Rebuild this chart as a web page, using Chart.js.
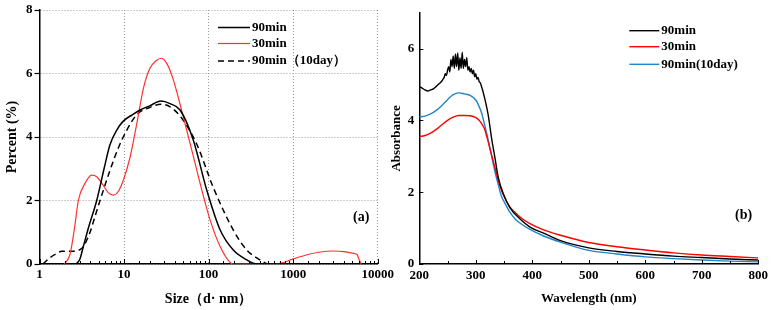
<!DOCTYPE html>
<html>
<head>
<meta charset="utf-8">
<script src="https://cdn.jsdelivr.net/npm/chart.js@4.4.0/dist/chart.umd.min.js"></script>
<style>
body { margin: 0; background: #fff; }
#wrap { position: relative; width: 772px; height: 310px; overflow: hidden; background: #fff; }
canvas { position: absolute; top: 0; }
#sizeChart { left: 0; }
#absChart { left: 390px; }
</style>
</head>
<body>
<div id="wrap">
<canvas id="sizeChart" width="400" height="310"></canvas>
<canvas id="absChart" width="382" height="310"></canvas>
</div>
<script>
// (a) Size distribution - d (nm) vs Percent (%)
const size90 = [2.7, 3.0, 3.3, 3.8, 4.75, 5.8, 6.8, 8.2, 9.8, 12.5, 15.5, 20, 27.4, 35, 46, 66, 95, 137, 196, 283, 372, 500, 800];
const pct90 = [0, 0.15, 0.55, 1.15, 2.0, 3.0, 3.75, 4.22, 4.5, 4.7, 4.85, 4.98, 5.13, 5.05, 4.85, 3.9, 2.33, 1.07, 0.44, 0.13, 0, 0, 0];

const size30 = [1.97, 2.3, 2.6, 2.88, 3.45, 4.14, 4.75, 5.6, 6.5, 7.47, 8.6, 9.8, 11.8, 14.1, 17, 20.3, 24, 27.4, 32, 38.3, 50, 66, 87, 104, 137, 179, 196, 300, 500, 700, 1000, 1500, 2000, 3000, 4000, 5000, 5700, 6000, 6400];
const pct30 = [0, 0.31, 1.15, 2.0, 2.54, 2.8, 2.75, 2.5, 2.25, 2.17, 2.3, 2.64, 3.37, 4.4, 5.55, 6.17, 6.4, 6.48, 6.32, 5.8, 4.65, 3.39, 2.13, 1.39, 0.55, 0.05, 0, 0, 0, 0.02, 0.16, 0.3, 0.37, 0.41, 0.39, 0.34, 0.3, 0.15, 0];

const size90d10 = [1.1, 1.33, 1.6, 1.83, 2.2, 2.63, 3.0, 3.3, 3.96, 4.5, 5.2, 6.8, 8.6, 10.7, 14.1, 20, 27.4, 35, 46, 72.5, 114, 196, 283, 405, 490];
const pct90d10 = [0, 0.2, 0.33, 0.4, 0.4, 0.4, 0.45, 0.55, 1.0, 1.47, 2.0, 2.94, 3.67, 4.2, 4.7, 4.93, 5.03, 4.95, 4.66, 3.77, 2.4, 1.07, 0.44, 0.13, 0];

const sizeTicks = [1, 10, 100, 1000, 10000];
const pctTicks = [0, 2, 4, 6, 8];

// (b) UV-vis absorbance
const wl90 = [200, 205, 210, 215, 220, 225, 230, 235, 240, 242, 244, 246, 248, 250, 252, 254, 256, 258, 260, 262, 264, 266, 268, 270, 272, 274, 276, 278, 280, 282, 284, 286, 288, 290, 292, 294, 296, 298, 300, 302, 304, 306, 308, 310, 312, 316, 322, 328, 334, 340, 349, 360, 378, 396, 420, 450, 500, 550, 600, 650, 700, 750, 800];
const abs90 = [4.95, 4.9, 4.85, 4.82, 4.85, 4.88, 4.95, 5.02, 5.1, 5.15, 5.2, 5.3, 5.25, 5.4, 5.5, 5.35, 5.7, 5.5, 5.8, 5.45, 5.85, 5.5, 5.88, 5.4, 5.75, 5.45, 5.9, 5.45, 5.7, 5.5, 5.75, 5.4, 5.5, 5.35, 5.45, 5.3, 5.4, 5.22, 5.3, 5.15, 5.2, 5.08, 5.05, 4.95, 4.85, 4.6, 4.15, 3.5, 2.95, 2.4, 1.95, 1.58, 1.26, 1.03, 0.86, 0.65, 0.45, 0.35, 0.28, 0.22, 0.18, 0.14, 0.11];

const wl = [200, 210, 220, 230, 240, 250, 260, 270, 280, 290, 300, 305, 310, 315, 320, 325, 330, 335, 340, 345, 350, 360, 370, 380, 395, 420, 450, 500, 550, 600, 650, 700, 750, 800];
const abs30 = [3.55, 3.58, 3.65, 3.75, 3.88, 4.0, 4.09, 4.14, 4.14, 4.13, 4.08, 4.02, 3.92, 3.78, 3.52, 3.22, 2.92, 2.62, 2.31, 2.07, 1.88, 1.6, 1.43, 1.29, 1.13, 0.95, 0.8, 0.6, 0.48, 0.39, 0.31, 0.25, 0.21, 0.17];
const abs90d10 = [4.1, 4.12, 4.18, 4.28, 4.42, 4.58, 4.72, 4.77, 4.74, 4.7, 4.57, 4.42, 4.22, 3.92, 3.6, 3.23, 2.85, 2.5, 2.2, 1.9, 1.74, 1.45, 1.25, 1.12, 0.97, 0.78, 0.61, 0.38, 0.28, 0.2, 0.15, 0.11, 0.08, 0.06];

const wlTicks = [200, 300, 400, 500, 600, 700, 800];
const wlMinor = [250, 350, 450, 550, 650, 750];
const absTicks = [0, 2, 4, 6];

const SERIF = "'Liberation Serif', 'Times New Roman', serif";
Chart.defaults.font.family = SERIF;
Chart.defaults.font.weight = 'bold';
Chart.defaults.color = '#000';
Chart.defaults.animation = false;

function pts(xs, ys) {
    return xs.map((x, i) => ({ x: x, y: ys[i] }));
}

function isDecade(v) {
    const l = Math.log10(v);
    return Math.abs(l - Math.round(l)) < 1e-9;
}

// ticks tournés vers l'intérieur
const innerTicks = {
    id: 'innerTicks',
    afterDraw(chart, args, opts) {
        const ctx = chart.ctx, x = chart.scales.x, y = chart.scales.y;
        const major = opts.xMajor || [];
        const minor = opts.xMinor || x.ticks.map(t => t.value).filter(v => !major.includes(v));
        ctx.save();
        ctx.strokeStyle = '#000';
        ctx.lineWidth = 1;
        ctx.beginPath();
        major.forEach(v => {
            const px = Math.round(x.getPixelForValue(v)) + 0.5;
            ctx.moveTo(px, x.top);
            ctx.lineTo(px, x.top - opts.majorLen);
        });
        minor.forEach(v => {
            const px = Math.round(x.getPixelForValue(v)) + 0.5;
            ctx.moveTo(px, x.top);
            ctx.lineTo(px, x.top - opts.minorLen);
        });
        (opts.yMajor || []).forEach(v => {
            const py = Math.round(y.getPixelForValue(v)) + 0.5;
            ctx.moveTo(y.right, py);
            ctx.lineTo(y.right + opts.majorLen, py);
        });
        ctx.stroke();
        ctx.restore();
    }
};

// légende dans la zone du graphique + étiquette (a)/(b)
const panelText = {
    id: 'panelText',
    afterDraw(chart, args, opts) {
        const ctx = chart.ctx;
        ctx.save();
        ctx.font = 'bold 13px ' + SERIF;
        ctx.textBaseline = 'middle';
        chart.data.datasets.forEach((ds, i) => {
            const yy = opts.rows[i];
            ctx.strokeStyle = ds.borderColor;
            ctx.lineWidth = ds.borderWidth;
            ctx.setLineDash(ds.borderDash || []);
            ctx.beginPath();
            ctx.moveTo(opts.x0, yy);
            ctx.lineTo(opts.x1, yy);
            ctx.stroke();
            ctx.setLineDash([]);
            ctx.fillStyle = '#000';
            ctx.fillText(ds.label, opts.x1 + 2, yy);
        });
        ctx.font = 'bold 14px ' + SERIF;
        ctx.fillText(opts.tag, opts.tagX, opts.tagY);
        ctx.restore();
    }
};

const tickFont = { size: 13, weight: 'bold' };
const titleFont = { size: 14, weight: 'bold', lineHeight: 1 };

// Graphique (a)
new Chart(document.getElementById('sizeChart'), {
    type: 'line',
    data: {
        datasets: [{
            label: '90min',
            data: pts(size90, pct90),
            borderColor: '#000000',
            borderWidth: 1.5,
            pointRadius: 0,
            cubicInterpolationMode: 'monotone'
        }, {
            label: '30min',
            data: pts(size30, pct30),
            borderColor: '#ff3030',
            borderWidth: 1.2,
            pointRadius: 0,
            cubicInterpolationMode: 'monotone'
        }, {
            label: '90min（10day）',
            data: pts(size90d10, pct90d10),
            borderColor: '#000000',
            borderWidth: 1.5,
            borderDash: [6, 4],
            pointRadius: 0,
            cubicInterpolationMode: 'monotone'
        }]
    },
    options: {
        responsive: false,
        layout: { padding: { left: 0, right: 22.3, top: 10, bottom: 0 } },
        plugins: {
            legend: { display: false },
            tooltip: { enabled: false },
            innerTicks: { xMajor: sizeTicks, majorLen: 5, minorLen: 3 },
            panelText: { rows: [27.5, 43.5, 61], x0: 218, x1: 250, tag: '(a)', tagX: 353, tagY: 217 }
        },
        scales: {
            x: {
                type: 'logarithmic',
                min: 1,
                max: 10000,
                afterFit: s => { s.height = 46; },
                grid: {
                    color: c => (c.tick && isDecade(c.tick.value)) ? '#9a9a9a' : 'rgba(0,0,0,0)',
                    lineWidth: 1,
                    drawTicks: false
                },
                border: { color: '#000', width: 1.5, dash: [1, 2] },
                ticks: {
                    autoSkip: false,
                    maxRotation: 0,
                    padding: 3,
                    font: tickFont,
                    callback: v => isDecade(v) ? String(v) : ''
                },
                title: { display: true, text: 'Size（d· nm）', font: titleFont, padding: { top: 0, bottom: 4 } }
            },
            y: {
                min: 0,
                max: 8,
                afterFit: s => { s.width = 39.5; },
                afterBuildTicks: s => { s.ticks = pctTicks.map(v => ({ value: v })); },
                grid: {
                    color: '#9a9a9a',
                    lineWidth: 1,
                    drawTicks: true,
                    tickLength: 5,
                    tickColor: '#000',
                    tickWidth: 1.2
                },
                border: { color: '#000', width: 1.5, dash: [1, 2] },
                ticks: { padding: 2, font: tickFont },
                title: { display: true, text: 'Percent (%)', font: titleFont, padding: { top: 5, bottom: 0 } }
            }
        }
    },
    plugins: [innerTicks, panelText]
});

// Graphique (b)
new Chart(document.getElementById('absChart'), {
    type: 'line',
    data: {
        datasets: [{
            label: '90min',
            data: pts(wl90, abs90),
            borderColor: '#000000',
            borderWidth: 1.4,
            pointRadius: 0,
            cubicInterpolationMode: 'monotone'
        }, {
            label: '30min',
            data: pts(wl, abs30),
            borderColor: '#ff0000',
            borderWidth: 1.4,
            pointRadius: 0,
            cubicInterpolationMode: 'monotone'
        }, {
            label: '90min(10day)',
            data: pts(wl, abs90d10),
            borderColor: '#1f86cc',
            borderWidth: 1.4,
            pointRadius: 0,
            cubicInterpolationMode: 'monotone'
        }]
    },
    options: {
        responsive: false,
        layout: { padding: { left: 0, right: 13.7, top: 10, bottom: 0 } },
        plugins: {
            legend: { display: false },
            tooltip: { enabled: false },
            innerTicks: { xMajor: wlTicks, xMinor: wlMinor, yMajor: absTicks, majorLen: 4, minorLen: 3 },
            panelText: { rows: [30.7, 46.7, 64.3], x0: 239.3, x1: 269.3, tag: '(b)', tagX: 345, tagY: 215 }
        },
        scales: {
            x: {
                type: 'linear',
                min: 200,
                max: 800,
                afterFit: s => { s.height = 46; },
                afterBuildTicks: s => { s.ticks = wlTicks.map(v => ({ value: v })); },
                grid: { display: false, drawTicks: false },
                border: { color: '#000', width: 1.5 },
                ticks: { padding: 4, maxRotation: 0, font: tickFont },
                title: { display: true, text: 'Wavelength (nm)', font: { size: 13, weight: 'bold', lineHeight: 1 }, padding: { top: 0, bottom: 5 } }
            },
            y: {
                min: 0,
                max: 7,
                afterFit: s => { s.width = 29.3; },
                afterBuildTicks: s => { s.ticks = absTicks.map(v => ({ value: v })); },
                grid: { display: false, drawTicks: false },
                border: { color: '#000', width: 1.5 },
                ticks: { padding: 5, font: tickFont },
                title: { display: true, text: 'Absorbance', font: { size: 13, weight: 'bold', lineHeight: 1 }, padding: { top: 0, bottom: 0 } }
            }
        }
    },
    plugins: [innerTicks, panelText]
});
</script>
</body>
</html>
